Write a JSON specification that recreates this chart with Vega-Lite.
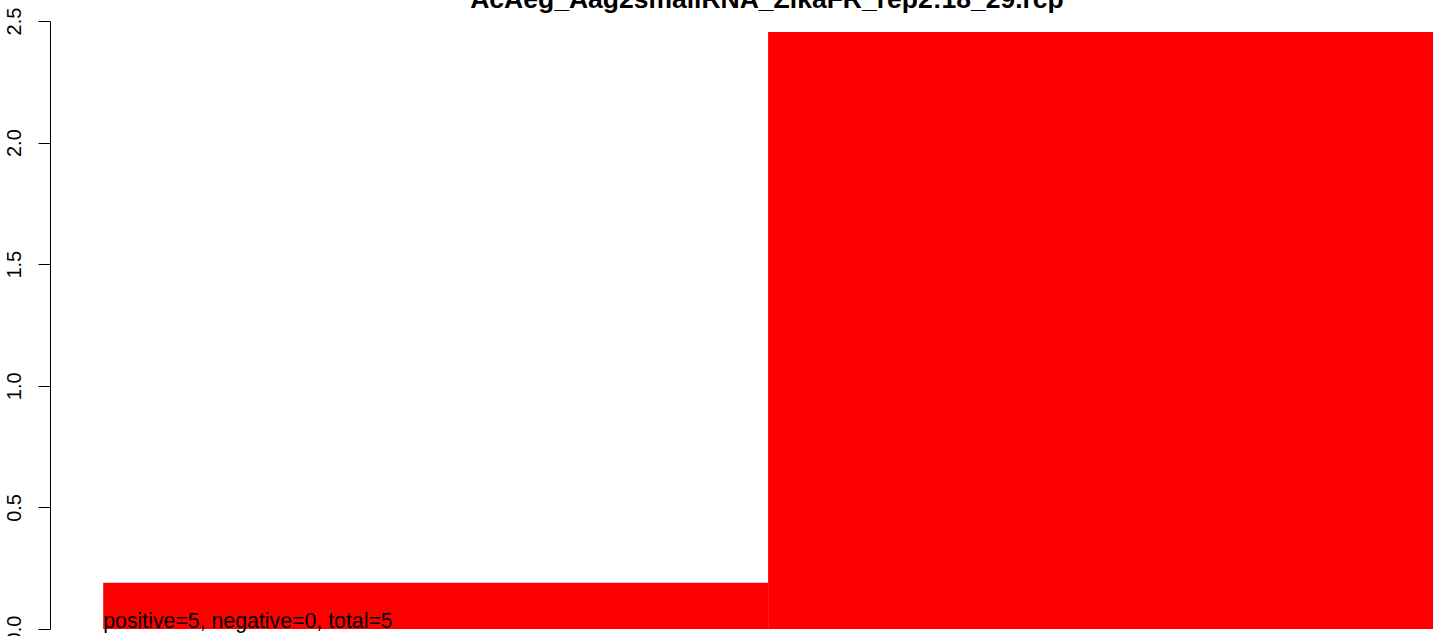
{
  "$schema": "https://vega.github.io/schema/vega-lite/v6.json",
  "width": 1394,
  "height": 608,
  "autosize": {"type": "none"},
  "padding": {"left": 50, "top": 21, "right": 0, "bottom": 7},
  "background": "white",
  "title": {
    "text": "AcAeg_Aag2smallRNA_ZikaFR_rep2:18_29.rcp",
    "font": "Liberation Sans",
    "fontSize": 26.5,
    "fontWeight": "bold",
    "anchor": "middle",
    "frame": "group",
    "dx": 20,
    "offset": -27,
    "baseline": "alphabetic",
    "color": "black"
  },
  "config": {"view": {"stroke": null}},
  "layer": [
    {
      "data": {"values": [
        {"start": 0, "end": 1, "value": 0.19},
        {"start": 1, "end": 2, "value": 2.455}
      ]},
      "mark": {"type": "bar", "color": "#FF0000", "strokeWidth": 0},
      "encoding": {
        "x": {"field": "start", "type": "quantitative", "scale": {"domain": [-0.08, 2.0165], "nice": false, "zero": false}, "axis": null},
        "x2": {"field": "end"},
        "y": {
          "field": "value", "type": "quantitative",
          "scale": {"domain": [0, 2.5], "nice": false},
          "axis": {
            "values": [0, 0.5, 1, 1.5, 2, 2.5],
            "format": ".1f",
            "labelAngle": 270,
            "labelAlign": "center",
            "labelBaseline": "alphabetic",
            "tickSize": 12,
            "tickColor": "black",
            "domainColor": "black",
            "labelColor": "black",
            "labelFont": "Liberation Sans",
            "labelFontSize": 20,
            "labelPadding": 18,
            "labelOverlap": false,
            "labelFlush": false,
            "grid": false,
            "title": null
          }
        },
        "y2": {"datum": 0}
      }
    },
    {
      "data": {"values": [{"x": 0, "y": 0, "label": "positive=5, negative=0, total=5"}]},
      "mark": {"type": "text", "align": "left", "baseline": "alphabetic", "dy": -1, "font": "Liberation Sans", "fontSize": 21.3, "color": "black"},
      "encoding": {
        "x": {"field": "x", "type": "quantitative"},
        "y": {"field": "y", "type": "quantitative"},
        "text": {"field": "label"}
      }
    }
  ]
}
